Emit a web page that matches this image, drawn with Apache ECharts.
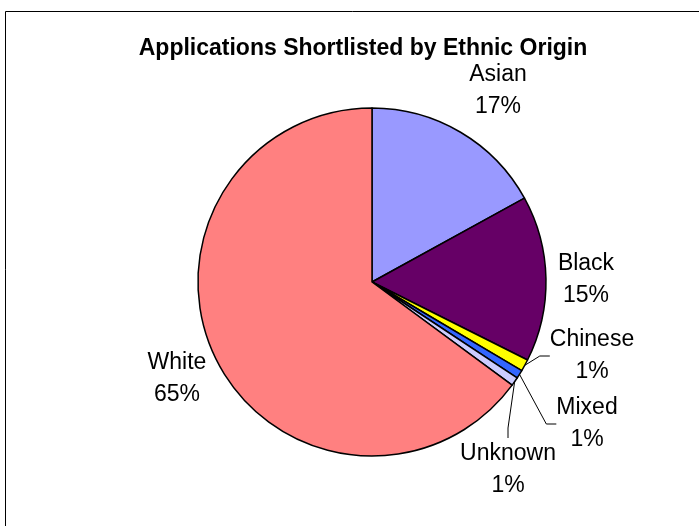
<!DOCTYPE html>
<html><head><meta charset="utf-8">
<script src="https://cdn.jsdelivr.net/npm/echarts@6/dist/echarts.min.js"></script>
<style>html,body{margin:0;padding:0;background:#fff}#c{width:699px;height:526px}</style>
</head><body><div id="c"></div>
<script>
const categories = ['Asian', 'Black', 'Chinese', 'Mixed', 'Unknown', 'White'];
const values = [17.0, 15.4, 1.1, 0.8, 0.8, 64.9];
const colors = ['#9999FF', '#660066', '#FFFF00', '#3366FF', '#CCCCFF', '#FF8080'];
const labelPos = [[498, 91], [586, 280], [592, 356], [587, 424], [508, 470], [177, 379]];
const showLine = [false, false, true, true, true, false];

const chart = echarts.init(document.getElementById('c'), null, {renderer: 'canvas'});
chart.setOption({
  animation: false,
  backgroundColor: '#fff',
  title: {
    text: 'Applications Shortlisted by Ethnic Origin',
    left: 358, top: 32, textAlign: 'center',
    textStyle: {fontFamily: 'Liberation Sans, Arial', fontWeight: 'bold', fontSize: 23, color: '#000'}
  },
  graphic: [{
    type: 'rect', shape: {x: 5.5, y: 11.5, width: 720, height: 540},
    style: {fill: 'none', stroke: '#000', lineWidth: 1}, silent: true, z: -1
  }],
  series: [{
    type: 'pie',
    center: [372, 282],
    radius: [0, 174],
    startAngle: 90,
    clockwise: true,
    avoidLabelOverlap: false,
    itemStyle: {borderColor: '#000', borderWidth: 1.5},
    label: {
      show: true,
      position: 'outside',
      formatter: p => p.name + '\n' + Math.round(p.percent) + '%',
      fontFamily: 'Liberation Sans, Arial',
      fontSize: 23,
      lineHeight: 32,
      color: '#000',
      align: 'center'
    },
    labelLine: {show: true, length: 10, length2: 10, lineStyle: {color: '#000', width: 1}},
    labelLayout: function (params) {
      const pos = labelPos[params.dataIndex];
      return {x: pos[0], y: pos[1], align: 'center', verticalAlign: 'middle'};
    },
    data: categories.map((c, i) => ({
      name: c, value: values[i],
      itemStyle: {color: colors[i]},
      labelLine: {show: showLine[i]}
    }))
  }]
});
</script></body></html>
